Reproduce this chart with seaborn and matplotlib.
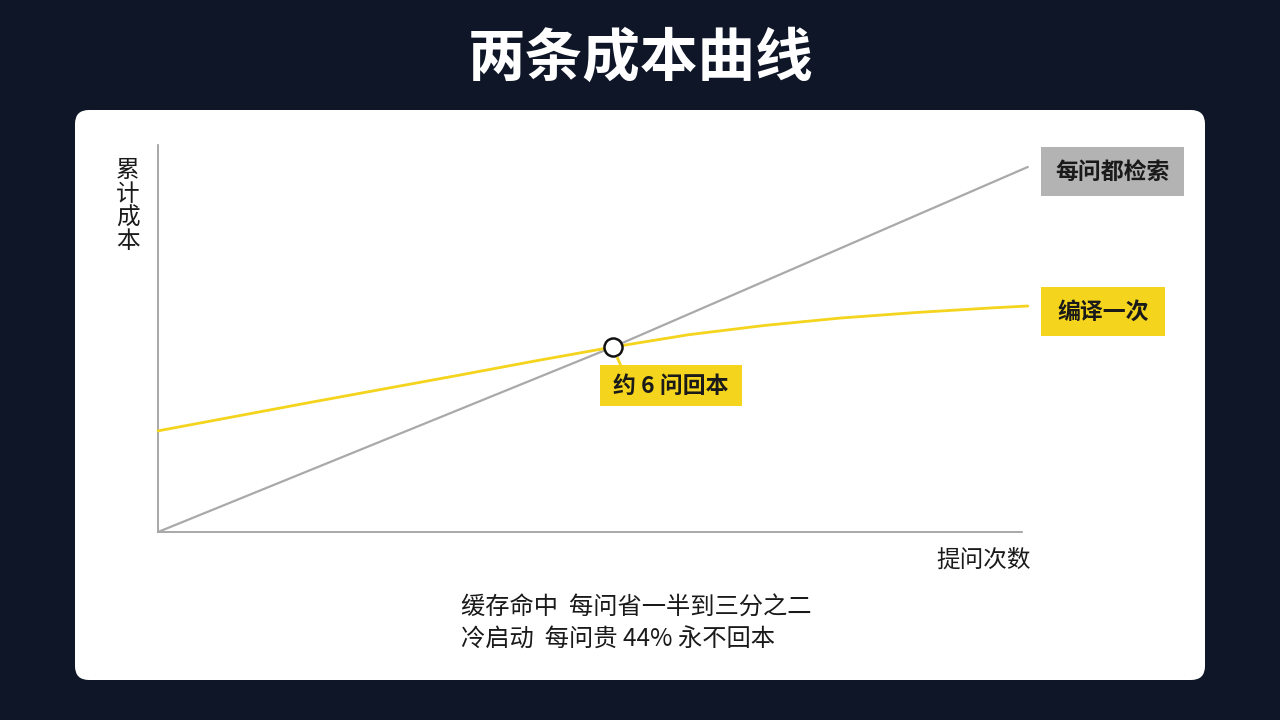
import matplotlib
matplotlib.use("Agg")
import matplotlib.pyplot as plt
from matplotlib.patches import FancyBboxPatch, Rectangle
import seaborn as sns
import pandas as pd

# ---- data ----
questions_retrieve = [0, 6, 11.47]
cost_retrieve = [0, 6.0, 11.84]

questions_compile = [0, 1, 2, 3, 4, 5, 6, 7, 8, 9, 10, 11, 11.47]
cost_compile = [3.28, 3.74, 4.2, 4.65, 5.1, 5.56, 6.0, 6.4, 6.7, 6.94, 7.12, 7.27, 7.33]

breakeven_q = 6
breakeven_cost = 6.0

title = "两条成本曲线"
label_retrieve = "每问都检索"
label_compile = "编译一次"
label_breakeven = "约 6 问回本"
x_label = "提问次数"
y_label = "累计成本"
note_lines = ["缓存命中  每问省一半到三分之二", "冷启动  每问贵 44% 永不回本"]

# ---- style ----
BG = "#0e1628"
YELLOW = "#f4d41c"
GRAY = "#a9a9a9"
SPINE = "#9a9a9a"
FONT = ["Noto Sans CJK SC", "DejaVu Sans"]

sns.set_theme(style="white")
plt.rcParams["font.family"] = FONT

fig = plt.figure(figsize=(12.8, 7.2), dpi=100, facecolor=BG)

# background layer in pixel coordinates
bg = fig.add_axes([0, 0, 1, 1], zorder=0)
bg.set_xlim(0, 1280)
bg.set_ylim(720, 0)
bg.axis("off")
bg.add_patch(FancyBboxPatch((75, 110), 1130, 570,
                            boxstyle="round,pad=0,rounding_size=14",
                            facecolor="white", edgecolor="none"))
bg.text(641, 59, title, color="white", fontsize=41.5, fontweight="bold",
        ha="center", va="center")

# main chart
ax = fig.add_axes([158 / 1280, (720 - 532) / 720, 864 / 1280, 387 / 720], zorder=2)
ax.set_facecolor("none")
df_r = pd.DataFrame({"q": questions_retrieve, "c": cost_retrieve})
df_c = pd.DataFrame({"q": questions_compile, "c": cost_compile})
sns.lineplot(data=df_r, x="q", y="c", ax=ax, color=GRAY, linewidth=1.6,
             clip_on=False, zorder=3)
sns.lineplot(data=df_c, x="q", y="c", ax=ax, color=YELLOW, linewidth=2.0,
             clip_on=False, zorder=4)
ax.plot([breakeven_q], [breakeven_cost], marker="o", markersize=13,
        markerfacecolor="white", markeredgecolor="#111111", markeredgewidth=1.8,
        linestyle="none", zorder=6, clip_on=False)

ax.set_xlim(0, 864 / 75.83)
ax.set_ylim(0, 387 / 30.83)
ax.set_xticks([])
ax.set_yticks([])
ax.set_xlabel("")
ax.set_ylabel("")
for s in ["top", "right"]:
    ax.spines[s].set_visible(False)
for s in ["left", "bottom"]:
    ax.spines[s].set_color(SPINE)
    ax.spines[s].set_linewidth(1.2)

# overlay for labels (pixel coordinates)
ov = fig.add_axes([0, 0, 1, 1], zorder=5)
ov.set_xlim(0, 1280)
ov.set_ylim(720, 0)
ov.axis("off")
ov.patch.set_alpha(0)

def box_label(x0, y0, w, h, color, text):
    ov.add_patch(Rectangle((x0, y0), w, h, facecolor=color, edgecolor="none"))
    ov.text(x0 + w / 2, y0 + h / 2 + 1, text, fontsize=16.5, fontweight="bold",
            color="#1a1a1a", ha="center", va="center")

box_label(1041, 147, 143, 49, "#b3b3b3", label_retrieve)
box_label(1041, 287, 124, 49, YELLOW, label_compile)
ov.plot([617, 621], [357, 366], color=YELLOW, lw=2, solid_capstyle="butt")
box_label(600, 365, 142, 41, YELLOW, label_breakeven)

ov.text(128, 206, "\n".join(y_label), fontsize=17,
        color="#1a1a1a", ha="center", va="center", linespacing=1.04)
ov.text(1031, 560, x_label, fontsize=17, color="#1a1a1a",
        ha="right", va="center")
ov.text(461, 608, note_lines[0], fontsize=17.5, color="#1a1a1a",
        ha="left", va="center")
ov.text(461, 640, note_lines[1], fontsize=17.5, color="#1a1a1a",
        ha="left", va="center")

fig.savefig("out.png", dpi=100, facecolor=BG)
